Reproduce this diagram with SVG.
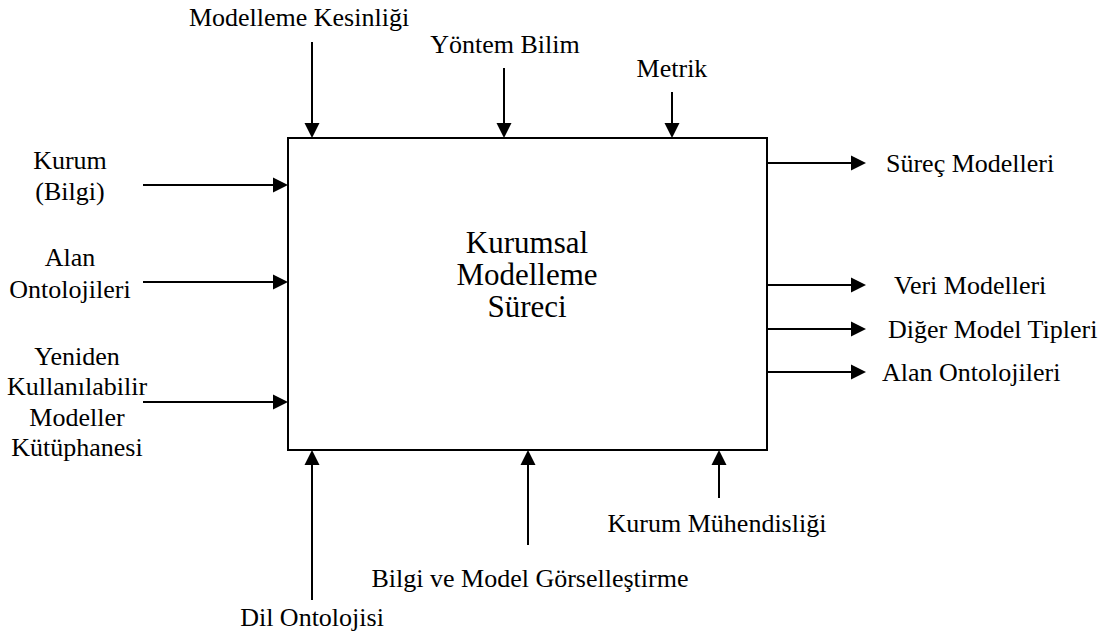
<svg xmlns="http://www.w3.org/2000/svg" width="1112" height="633" viewBox="0 0 1112 633">
  <rect width="1112" height="633" fill="#fff"/>

  <!-- central process box -->
  <g id="process">
    <rect x="288" y="138" width="479" height="312" fill="#fff" stroke="#000" stroke-width="2"/>
    <text font-family="'Liberation Serif', serif" font-size="31" text-anchor="middle" x="527" y="253">Kurumsal</text>
    <text font-family="'Liberation Serif', serif" font-size="31" text-anchor="middle" x="527" y="285">Modelleme</text>
    <text font-family="'Liberation Serif', serif" font-size="31" text-anchor="middle" x="527" y="317">Süreci</text>
  </g>

  <!-- connectors: shafts plus filled triangular heads -->
  <g id="connectors" stroke="#000" stroke-width="2" fill="#000">
    <!-- controls (top) -->
    <path d="M312,42 V123"/><path d="M304.5,123 H319.5 L312,138 Z" stroke="none"/>
    <path d="M504,68 V123"/><path d="M496.5,123 H511.5 L504,138 Z" stroke="none"/>
    <path d="M672,92 V123"/><path d="M664.5,123 H679.5 L672,138 Z" stroke="none"/>
    <!-- inputs (left) -->
    <path d="M143,185 H273"/><path d="M273,177.5 V192.5 L288,185 Z" stroke="none"/>
    <path d="M143,282 H273"/><path d="M273,274.5 V289.5 L288,282 Z" stroke="none"/>
    <path d="M143,402 H273"/><path d="M273,394.5 V409.5 L288,402 Z" stroke="none"/>
    <!-- outputs (right) -->
    <path d="M768,163 H851"/><path d="M851,155.5 V170.5 L866,163 Z" stroke="none"/>
    <path d="M768,285 H851"/><path d="M851,277.5 V292.5 L866,285 Z" stroke="none"/>
    <path d="M768,329 H851"/><path d="M851,321.5 V336.5 L866,329 Z" stroke="none"/>
    <path d="M768,372 H851"/><path d="M851,364.5 V379.5 L866,372 Z" stroke="none"/>
    <!-- mechanisms (bottom) -->
    <path d="M312,600 V465"/><path d="M304.5,465 H319.5 L312,450 Z" stroke="none"/>
    <path d="M528,545 V465"/><path d="M520.5,465 H535.5 L528,450 Z" stroke="none"/>
    <path d="M719,498 V465"/><path d="M711.5,465 H726.5 L719,450 Z" stroke="none"/>
  </g>

  <g id="ctl-precision"><text font-family="'Liberation Serif', serif" font-size="26" text-anchor="middle" x="299" y="26">Modelleme Kesinliği</text></g>
  <g id="ctl-method"><text font-family="'Liberation Serif', serif" font-size="26" text-anchor="middle" x="505" y="53">Yöntem Bilim</text></g>
  <g id="ctl-metric"><text font-family="'Liberation Serif', serif" font-size="26" text-anchor="middle" x="672" y="77">Metrik</text></g>

  <g id="in-enterprise">
    <text font-family="'Liberation Serif', serif" font-size="26" text-anchor="middle" x="70" y="169">Kurum</text>
    <text font-family="'Liberation Serif', serif" font-size="26" text-anchor="middle" x="70" y="200">(Bilgi)</text>
  </g>
  <g id="in-domain">
    <text font-family="'Liberation Serif', serif" font-size="26" text-anchor="middle" x="70" y="266">Alan</text>
    <text font-family="'Liberation Serif', serif" font-size="26" text-anchor="middle" x="70" y="298">Ontolojileri</text>
  </g>
  <g id="in-library">
    <text font-family="'Liberation Serif', serif" font-size="26" text-anchor="middle" x="77" y="365">Yeniden</text>
    <text font-family="'Liberation Serif', serif" font-size="26" text-anchor="middle" x="77" y="395">Kullanılabilir</text>
    <text font-family="'Liberation Serif', serif" font-size="26" text-anchor="middle" x="77" y="426">Modeller</text>
    <text font-family="'Liberation Serif', serif" font-size="26" text-anchor="middle" x="77" y="456">Kütüphanesi</text>
  </g>

  <g id="out-process"><text font-family="'Liberation Serif', serif" font-size="26" x="886" y="172">Süreç Modelleri</text></g>
  <g id="out-data"><text font-family="'Liberation Serif', serif" font-size="26" x="894" y="294">Veri Modelleri</text></g>
  <g id="out-other"><text font-family="'Liberation Serif', serif" font-size="26" x="888" y="338">Diğer Model Tipleri</text></g>
  <g id="out-domain"><text font-family="'Liberation Serif', serif" font-size="26" x="882" y="381">Alan Ontolojileri</text></g>

  <g id="mech-language"><text font-family="'Liberation Serif', serif" font-size="26" text-anchor="middle" x="312" y="626">Dil Ontolojisi</text></g>
  <g id="mech-visual"><text font-family="'Liberation Serif', serif" font-size="26" text-anchor="middle" x="530" y="587">Bilgi ve Model Görselleştirme</text></g>
  <g id="mech-engineering"><text font-family="'Liberation Serif', serif" font-size="26" text-anchor="middle" x="717" y="532">Kurum Mühendisliği</text></g>
</svg>
